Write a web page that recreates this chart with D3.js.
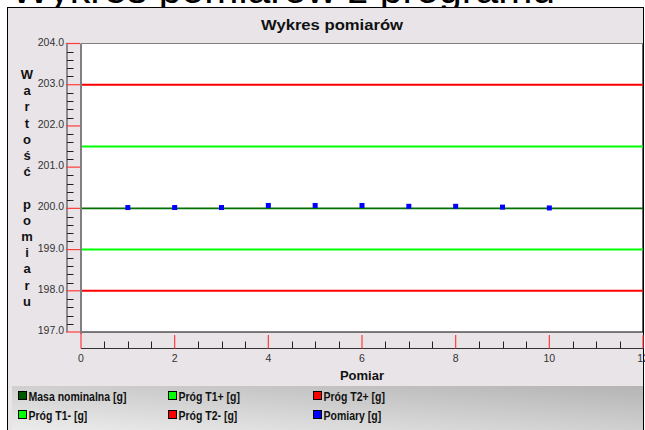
<!DOCTYPE html>
<html>
<head>
<meta charset="utf-8">
<script src="https://cdn.jsdelivr.net/npm/d3@7/dist/d3.min.js"></script>
<style>
  html, body { margin: 0; padding: 0; background: #ffffff; }
  svg { display: block; }
  text { font-family: "Liberation Sans", Arial, sans-serif; }
</style>
</head>
<body>
<svg id="chart" width="645" height="430"></svg>
<script>
// Measurement numbers (x axis) and measured masses
const pomiarNr = [1, 2, 3, 4, 5, 6, 7, 8, 9, 10];
const pomiary = [200.02, 200.02, 200.02, 200.07, 200.07, 200.07, 200.05, 200.05, 200.03, 200.01];

// Horizontal reference levels: nominal mass and tolerance thresholds
const progiNazwy = ["Masa nominalna [g]", "Próg T1+ [g]", "Próg T2+ [g]", "Próg T1- [g]", "Próg T2- [g]"];
const progiWartosci = [200.0, 201.5, 203.0, 199.0, 198.0];
const progiKolory = ["#007000", "#00ff00", "#ff0000", "#00ff00", "#ff0000"];
const progiGrubosc = [1.6, 2, 2, 2, 2];

// Legend entries (two rows of three)
const legendaNazwy = ["Masa nominalna [g]", "Próg T1+ [g]", "Próg T2+ [g]", "Próg T1- [g]", "Próg T2- [g]", "Pomiary [g]"];
const legendaKolory = ["#005800", "#00ff00", "#ff0000", "#00ff00", "#ff0000", "#0000ff"];

// Axis ticks
const yTicks = [197, 198, 199, 200, 201, 202, 203, 204];
const xTicks = [0, 2, 4, 6, 8, 10, 12];

const svg = d3.select("#chart");

// Page heading, partly hidden behind the chart panel
svg.append("text")
  .attr("x", 11).attr("y", 3)
  .attr("font-size", 41)
  .attr("fill", "#000")
  .text("Wykres pomiarów z programu");

// Chart panel
svg.append("rect")
  .attr("x", 7.5).attr("y", 7.5)
  .attr("width", 636).attr("height", 430)
  .attr("fill", "#e8e4e8")
  .attr("stroke", "#000").attr("stroke-width", 1);

svg.append("text")
  .attr("x", 332).attr("y", 30)
  .attr("text-anchor", "middle")
  .attr("font-size", 14)
  .attr("font-weight", "bold")
  .attr("fill", "#111")
  .attr("textLength", 142)
  .attr("lengthAdjust", "spacingAndGlyphs")
  .text("Wykres pomiarów");

const x = d3.scaleLinear().domain([0, 12]).range([81, 643]);
const y = d3.scaleLinear().domain([197, 204]).range([332, 43.5]);

// Plot area
svg.append("rect")
  .attr("x", x(0)).attr("y", y(204))
  .attr("width", x(12) - x(0)).attr("height", y(197) - y(204))
  .attr("fill", "#ffffff");
// right and bottom borders
svg.append("path")
  .attr("d", `M${x(0)},${y(197)}H${x(12)}V${y(204)}`)
  .attr("fill", "none").attr("stroke", "#000").attr("stroke-width", 1.2);
// top border and left axis line
svg.append("path")
  .attr("d", `M${x(12)},${y(204)}H${x(0)}`)
  .attr("fill", "none").attr("stroke", "#808080").attr("stroke-width", 1.2);
svg.append("line")
  .attr("x1", x(0)).attr("x2", x(0))
  .attr("y1", y(204)).attr("y2", y(197) + 2)
  .attr("stroke", "#808080").attr("stroke-width", 2);

// Reference levels
svg.append("g").selectAll("line")
  .data(progiWartosci)
  .join("line")
  .attr("x1", x(0) + 1).attr("x2", x(12))
  .attr("y1", d => y(d)).attr("y2", d => y(d))
  .attr("stroke", (d, i) => progiKolory[i])
  .attr("stroke-width", (d, i) => progiGrubosc[i]);

// Measurements
svg.append("g").selectAll("rect")
  .data(pomiary)
  .join("rect")
  .attr("x", (d, i) => x(pomiarNr[i]) - 2.5)
  .attr("y", d => y(d) - 2.5)
  .attr("width", 5).attr("height", 5)
  .attr("fill", "#0000ff");

// Y axis: spine to the left of the plot with ticks pointing right
const yAxisX = 67;
const gy = svg.append("g");
gy.append("line")
  .attr("x1", yAxisX).attr("x2", yAxisX)
  .attr("y1", y(204)).attr("y2", y(197))
  .attr("stroke", "#333").attr("stroke-width", 1);
gy.selectAll("line.minor")
  .data(d3.range(197, 204.001, 0.2).filter(v => Math.abs(v - Math.round(v)) > 0.01))
  .join("line").attr("class", "minor")
  .attr("x1", yAxisX).attr("x2", yAxisX + 6.5)
  .attr("y1", d => Math.round(y(d)) + 0.5).attr("y2", d => Math.round(y(d)) + 0.5)
  .attr("stroke", "#222").attr("stroke-width", 1);
gy.selectAll("line.major")
  .data(yTicks)
  .join("line").attr("class", "major")
  .attr("x1", yAxisX - 1).attr("x2", x(0) - 1)
  .attr("y1", d => y(d)).attr("y2", d => y(d))
  .attr("stroke", "#ff3c3c").attr("stroke-width", 1.2);
gy.selectAll("text")
  .data(yTicks)
  .join("text")
  .attr("x", 64).attr("y", d => y(d) + 2)
  .attr("text-anchor", "end")
  .attr("font-size", 10.5)
  .attr("fill", "#333")
  .text(d => d3.format(".1f")(d));

// Y axis title, letters stacked vertically
const yTitle = "Wartość pomiaru";
svg.append("g").selectAll("text")
  .data(Array.from(yTitle))
  .join("text")
  .attr("x", 27).attr("y", (d, i) => 79 + i * 16.2)
  .attr("text-anchor", "middle")
  .attr("font-size", 13)
  .attr("font-weight", "bold")
  .attr("fill", "#111")
  .text(d => d);

// X axis: spine below the plot with ticks pointing up
const xAxisY = 348.5;
const gx = svg.append("g");
gx.append("line")
  .attr("x1", x(0)).attr("x2", x(12))
  .attr("y1", xAxisY).attr("y2", xAxisY)
  .attr("stroke", "#333").attr("stroke-width", 1);
gx.selectAll("line.minor")
  .data(d3.range(0, 12.001, 0.5).filter(v => v % 2 !== 0))
  .join("line").attr("class", "minor")
  .attr("x1", d => Math.round(x(d)) + 0.5).attr("x2", d => Math.round(x(d)) + 0.5)
  .attr("y1", xAxisY - 7).attr("y2", xAxisY)
  .attr("stroke", "#222").attr("stroke-width", 1);
gx.selectAll("line.major")
  .data(xTicks)
  .join("line").attr("class", "major")
  .attr("x1", d => x(d)).attr("x2", d => x(d))
  .attr("y1", d => d === 0 ? y(197) + 1 : xAxisY - 13.5).attr("y2", xAxisY)
  .attr("stroke", "#ff3c3c").attr("stroke-width", 1.2);
gx.selectAll("text")
  .data(xTicks)
  .join("text")
  .attr("x", d => x(d)).attr("y", 362)
  .attr("text-anchor", "middle")
  .attr("font-size", 10.5)
  .attr("fill", "#333")
  .text(d => d);

svg.append("text")
  .attr("x", (x(0) + x(12)) / 2).attr("y", 380)
  .attr("text-anchor", "middle")
  .attr("font-size", 13)
  .attr("font-weight", "bold")
  .attr("fill", "#111")
  .text("Pomiar");

// Legend box with shaded background
const defs = svg.append("defs");
const grad = defs.append("linearGradient")
  .attr("id", "legendBg")
  .attr("x1", 0).attr("y1", 1).attr("x2", 1).attr("y2", 0);
grad.append("stop").attr("offset", "0%").attr("stop-color", "#ececec");
grad.append("stop").attr("offset", "100%").attr("stop-color", "#b4b4b4");

svg.append("rect")
  .attr("x", 12).attr("y", 386)
  .attr("width", 631).attr("height", 44)
  .attr("fill", "url(#legendBg)");

const legendCols = [18, 168, 313];
const legendRows = [396, 415];
const lg = svg.append("g").selectAll("g")
  .data(legendaNazwy)
  .join("g")
  .attr("transform", (d, i) => `translate(${legendCols[i % 3]},${legendRows[Math.floor(i / 3)]})`);
lg.append("rect")
  .attr("x", 0.5).attr("y", -4.5)
  .attr("width", 8).attr("height", 8)
  .attr("fill", (d, i) => legendaKolory[i])
  .attr("stroke", "#000").attr("stroke-width", 1);
lg.append("text")
  .attr("transform", "translate(10.5,4.5) scale(0.84,1)")
  .attr("font-size", 12.5)
  .attr("font-weight", "bold")
  .attr("fill", "#111")
  .text(d => d);
</script>
</body>
</html>
